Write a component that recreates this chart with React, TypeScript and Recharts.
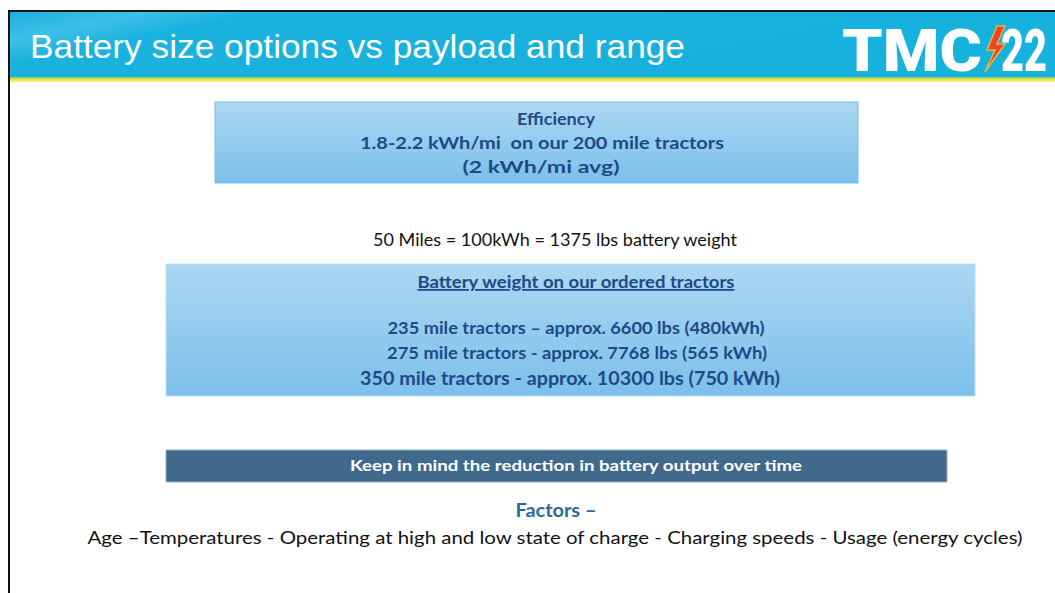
import React from "react";
import { ComposedChart, XAxis, YAxis, ReferenceArea } from "recharts";

const slideTitle = "Battery size options vs payload and range";
const efficiencyLines = [
  "Efficiency",
  "1.8-2.2 kWh/mi  on our 200 mile tractors",
  "(2 kWh/mi avg)",
];
const conversionLine = "50 Miles = 100kWh = 1375 lbs battery weight";
const weightHeading = "Battery weight on our ordered tractors";
const tractorLines = [
  "235 mile tractors \u2013 approx. 6600 lbs (480kWh)",
  "275 mile tractors - approx. 7768 lbs (565 kWh)",
  "350 mile tractors - approx. 10300 lbs (750 kWh)",
];
const reminderLine = "Keep in mind the reduction in battery output over time";
const factorsHeading = "Factors \u2013";
const factorsLine =
  "Age \u2013Temperatures - Operating at high and low state of charge - Charging speeds - Usage (energy cycles)";

// slide geometry, in page pixels
const W = 1055;
const H = 593;
const BOX_FONT = "Lato, 'Open Sans', sans-serif";
const NAVY = "#1d4a86";

type Line = { text: string; x: number; y: number; len: number; size: number; color: string; bold?: boolean; underline?: boolean };

const lines: Line[] = [
  { text: efficiencyLines[0], x: 556, y: 125, len: 78, size: 17.5, color: NAVY, bold: true },
  { text: efficiencyLines[1], x: 542, y: 149, len: 364, size: 17.5, color: NAVY, bold: true },
  { text: efficiencyLines[2], x: 541, y: 173, len: 157, size: 17.5, color: NAVY, bold: true },
  { text: conversionLine, x: 555, y: 246, len: 364, size: 17, color: "#111" },
  { text: weightHeading, x: 576, y: 288, len: 317, size: 17.5, color: NAVY, bold: true, underline: true },
  { text: tractorLines[0], x: 576, y: 334, len: 377, size: 17.5, color: NAVY, bold: true },
  { text: tractorLines[1], x: 577, y: 359, len: 380, size: 17.5, color: NAVY, bold: true },
  { text: tractorLines[2], x: 570, y: 385, len: 420, size: 19.5, color: NAVY, bold: true },
  { text: reminderLine, x: 576, y: 471, len: 452, size: 16, color: "#ffffff", bold: true },
  { text: factorsHeading, x: 556, y: 517, len: 81, size: 18, color: "#2c6a9a", bold: true },
  { text: factorsLine, x: 555, y: 544, len: 935, size: 18, color: "#111" },
];

export default function App() {
  return (
    <div style={{ position: "fixed", left: 0, top: 0, width: W, height: H, background: "#fff" }}>
      <ComposedChart width={W} height={H} margin={{ top: 0, right: 0, bottom: 0, left: 0 }} data={[]}>
        <defs>
          <linearGradient id="boxGrad" x1="0" y1="0" x2="0" y2="1">
            <stop offset="0%" stopColor="#acd7f2" />
            <stop offset="100%" stopColor="#7cc0eb" />
          </linearGradient>
          <linearGradient id="headGrad" x1="0" y1="0" x2="1" y2="0.3">
            <stop offset="0%" stopColor="#1bb0dc" />
            <stop offset="12%" stopColor="#3cc0e6" />
            <stop offset="22%" stopColor="#1ab2de" />
            <stop offset="100%" stopColor="#17b1dd" />
          </linearGradient>
          <linearGradient id="stripeGrad" x1="0" y1="0" x2="0" y2="1">
            <stop offset="0%" stopColor="#6cc7a0" />
            <stop offset="40%" stopColor="#e6e52c" />
            <stop offset="100%" stopColor="#f4f48a" />
          </linearGradient>
        </defs>
        <XAxis type="number" dataKey="x" domain={[0, W]} hide allowDataOverflow />
        <YAxis type="number" dataKey="y" domain={[0, H]} reversed hide allowDataOverflow />

        {/* slide frame + header */}
        <ReferenceArea x1={8} x2={W} y1={10} y2={12} fill="#111" fillOpacity={1} ifOverflow="visible" />
        <ReferenceArea x1={8} x2={10} y1={10} y2={H} fill="#111" fillOpacity={1} ifOverflow="visible" />
        <ReferenceArea x1={10} x2={W} y1={12} y2={77} fill="url(#headGrad)" fillOpacity={1} ifOverflow="visible" />
        <ReferenceArea x1={10} x2={W} y1={77} y2={82} fill="url(#stripeGrad)" fillOpacity={1} ifOverflow="visible" />

        {/* content boxes */}
        <ReferenceArea x1={215} x2={858} y1={102} y2={183} fill="url(#boxGrad)" fillOpacity={1} stroke="#74bde9" strokeWidth={1} ifOverflow="visible" />
        <ReferenceArea x1={166} x2={975} y1={264} y2={396} fill="url(#boxGrad)" fillOpacity={1} stroke="#b9def4" strokeWidth={1} ifOverflow="visible" />
        <ReferenceArea x1={166} x2={947} y1={450} y2={482} fill="#41698b" fillOpacity={1} stroke="#8fb4d0" strokeWidth={1} ifOverflow="visible" />
      </ComposedChart>

      {/* text layer on top of the reference areas */}
      <svg width={W} height={H} style={{ position: "absolute", left: 0, top: 0, pointerEvents: "none" }}>
        <text
          x={30}
          y={58}
          fill="#ffffff"
          fontFamily="'Liberation Sans', Arial, sans-serif"
          fontSize={34}
          textLength={655}
          lengthAdjust="spacingAndGlyphs"
        >
          {slideTitle}
        </text>

        {/* logo */}
        <text x={842} y={71} fill="#ffffff" fontFamily="Roboto, sans-serif" fontWeight={900} fontSize={60} textLength={140} lengthAdjust="spacingAndGlyphs">
          TMC
        </text>
        <polygon points="997,26 987,50 995,50 985,72 1005,44 997,44 1005,26" fill="#e8472a" stroke="#f2b233" strokeWidth={1.5} />
        <g transform="translate(1001,71) scale(1,1.4)">
          <text x={0} y={0} fill="#ffffff" fontFamily="Roboto, sans-serif" fontWeight={900} fontSize={42} textLength={46} lengthAdjust="spacingAndGlyphs">
            22
          </text>
        </g>

        {lines.map((l, i) => (
          <text
            key={i}
            x={l.x}
            y={l.y}
            textAnchor="middle"
            fill={l.color}
            fontFamily={BOX_FONT}
            fontSize={l.size}
            fontWeight={l.bold ? 700 : 400}
            textDecoration={l.underline ? "underline" : undefined}
            textLength={l.len}
            lengthAdjust="spacingAndGlyphs"
            style={{ whiteSpace: "pre" }}
          >
            {l.text}
          </text>
        ))}
      </svg>
    </div>
  );
}
